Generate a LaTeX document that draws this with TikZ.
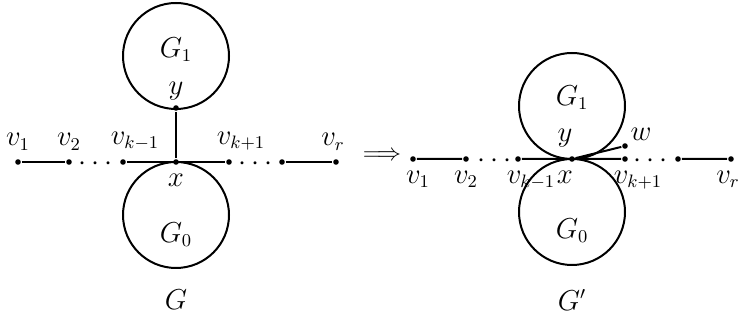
\documentclass[tikz,border=0pt]{standalone}
\usepackage{amsmath}
\usepackage{amssymb}
\usepackage{tikz}

\tikzset{
  vert/.style={circle,fill,inner sep=0pt,minimum size=2.8pt},
  dots/.style={inner sep=0pt},
  every label/.style={inner sep=1pt},
}

\begin{document}
\begin{tikzpicture}[x=0.5pt,y=0.5pt,line width=1pt,font=\fontsize{13.5}{16}\selectfont,label distance=2.5pt]
        \useasboundingbox (0,0) rectangle (739,326);
        % graph G
        \coordinate (c1) at (176,270); \coordinate (c0) at (176,111);
        \draw (c1) circle (53); \draw (c0) circle (53);
        \node (g1) at (176,276) {$G_1$};
        \node (g0) at (176,91) {$G_0$};
        \node[vert,label=above:$v_1$] (a1) at (18,164) {};
        \node[vert,label=above:$v_2$] (a2) at (69,164) {};
        \node[vert,label={[xshift=6pt]above:$v_{k-1}$}] (a3) at (123,164) {};
        \node[vert,label=below:$x$] (ax) at (176,164) {};
        \node[vert,label={[label distance=0.5pt]above:$y$}] (ay) at (176,218) {};
        \node[vert,label={[xshift=6pt]above:$v_{k+1}$}] (a4) at (229,164) {};
        \node[vert] (a5) at (282,164) {};
        \node[vert,label={[xshift=-1.5pt]above:$v_r$}] (a6) at (336,164) {};
        \node[dots] (da) at (98,162) {$\cdots$};
        \node[dots] (db) at (258,162) {$\cdots$};
        \draw (a1)--(a2) (a3)--(a4) (ax)--(ay) (a5)--(a6);
        \node (gl) at (176,26) {$G$};
        % arrow
        \node[dots,font=\fontsize{12}{14}\selectfont] (imp) at (382,170) {$\Longrightarrow$};
        % graph G'
        \coordinate (d1) at (572,220); \coordinate (d0) at (572,114);
        \draw (d1) circle (53); \draw (d0) circle (53);
        \node (h1) at (572,228) {$G_1$};
        \node (h0) at (572,95) {$G_0$};
        \node[vert,label={[xshift=2.5pt]below:$v_1$}] (b1) at (413,167) {};
        \node[vert,label=below:$v_2$] (b2) at (466,167) {};
        \node[vert,label={[xshift=6.5pt]below:$v_{k-1}$}] (b3) at (518,167) {};
        \node[vert,label={[xshift=-3.5pt]below:$x$},label={[xshift=-3.5pt]above:$y$}] (bx) at (572,167) {};
        \node[vert,label={[xshift=6.5pt]below:$v_{k+1}$}] (b4) at (625,167) {};
        \node[vert,label={[label distance=0pt]above right:$w$}] (bw) at (625,180) {};
        \node[vert] (b5) at (678,167) {};
        \node[vert,label={[xshift=-1.5pt]below:$v_r$}] (b6) at (731,167) {};
        \node[dots] (dc) at (497,165) {$\cdots$};
        \node[dots] (dd) at (653,165) {$\cdots$};
        \draw (b1)--(b2) (b3)--(b4) (bx)--(bw) (b5)--(b6);
        \node (hl) at (572,26) {$G'$};
    \end{tikzpicture}
\end{document}
